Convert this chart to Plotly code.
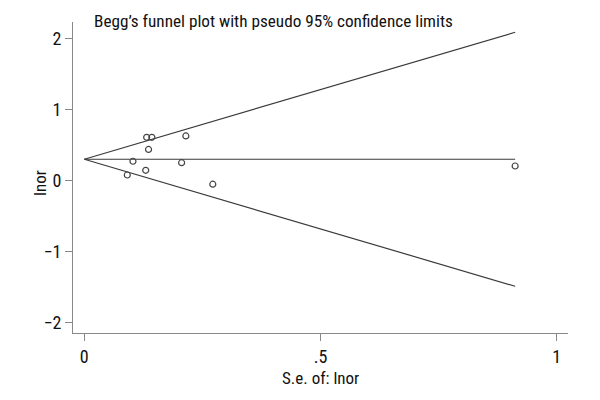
import plotly.graph_objects as go

# Data
se = [0.132, 0.143, 0.215, 0.136, 0.103, 0.206, 0.130, 0.091, 0.272, 0.912]
lnor = [0.609, 0.609, 0.628, 0.438, 0.272, 0.252, 0.145, 0.079, -0.051, 0.205]
pooled = 0.30
z = 1.96
x_ticks = [0, 0.5, 1]
x_ticklabels = ["0", ".5", "1"]
y_ticks = [-2, -1, 0, 1, 2]
y_ticklabels = ["\u22122", "\u22121", "0", "1", "2"]

max_se = max(se)
funnel_x = [0, max_se]
upper = [pooled + z * s for s in funnel_x]
lower = [pooled - z * s for s in funnel_x]
center = [pooled for s in funnel_x]

FONT = "Roboto Condensed, Liberation Sans Narrow, sans-serif"
LINE = "#3a3a3a"

# page body has an 8px default margin; compensate so plot lands at target pixels
OFF = 8
L, T = 73 - OFF, 22 - OFF
PW, PH = 495, 311

fig = go.Figure()
for ys in (upper, center, lower):
    fig.add_trace(go.Scatter(x=funnel_x, y=ys, mode="lines",
                             line=dict(color=LINE, width=1.2),
                             hoverinfo="skip", showlegend=False))
fig.add_trace(go.Scatter(x=se, y=lnor, mode="markers",
                         marker=dict(symbol="circle-open", size=6,
                                     color="#444444", line=dict(width=1.2)),
                         showlegend=False))

fig.update_layout(
    width=600, height=400,
    margin=dict(l=L, r=600 - L - PW, t=T, b=400 - T - PH, autoexpand=False),
    paper_bgcolor="white", plot_bgcolor="white",
    font=dict(family=FONT, size=18, color="#111111"),
    xaxis=dict(range=[-0.0239, 1.0239], tickvals=x_ticks, ticktext=x_ticklabels,
               showgrid=False, zeroline=False, showline=True, linecolor="#888888",
               linewidth=1.2, ticks="outside", ticklen=7, tickcolor="#888888",
               tickwidth=1.2, tickfont=dict(family=FONT, size=18)),
    yaxis=dict(range=[-2.145, 2.232], tickvals=y_ticks, ticktext=y_ticklabels,
               showgrid=False, zeroline=False, showline=True, linecolor="#888888",
               linewidth=1.2, ticks="outside", ticklen=7, tickcolor="#888888",
               tickwidth=1.2, tickfont=dict(family=FONT, size=18)),
    annotations=[
        dict(text="Begg\u2019s funnel plot with pseudo 95% confidence limits",
             xref="paper", yref="paper", x=(92 - 73) / PW, y=1.0, yshift=1,
             xanchor="left", yanchor="middle", showarrow=False,
             font=dict(family=FONT, size=17.2, color="#111111")),
        dict(text="S.e. of: lnor", xref="paper", yref="paper",
             x=(320 - 73) / PW, y=0, yshift=-45, xanchor="center",
             yanchor="middle", showarrow=False,
             font=dict(family=FONT, size=17, color="#111111")),
        dict(text="lnor", xref="paper", yref="paper",
             x=0, xshift=-33, y=(333 - 183) / PH, textangle=-90,
             xanchor="center", yanchor="middle", showarrow=False,
             font=dict(family=FONT, size=17, color="#111111")),
    ],
)

fig.write_html("out.html")
